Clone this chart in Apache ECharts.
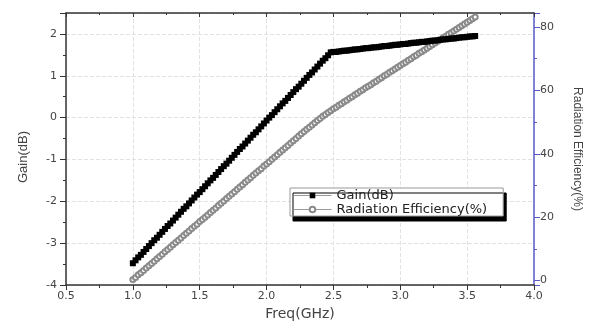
<!DOCTYPE html>
<html>
<head>
<meta charset="utf-8">
<style>
  html, body { margin: 0; padding: 0; background: #fff; }
  #chart { width: 591px; height: 329px; }
</style>
<script src="https://cdn.jsdelivr.net/npm/echarts@6/dist/echarts.min.js"></script>
</head>
<body>
<div id="chart"></div>
<script>
// frequency points (GHz)
const freq = [
  1.00, 1.02, 1.04, 1.06, 1.08, 1.10, 1.12, 1.14, 1.16, 1.18,
  1.20, 1.22, 1.24, 1.26, 1.28, 1.30, 1.32, 1.34, 1.36, 1.38,
  1.40, 1.42, 1.44, 1.46, 1.48, 1.50, 1.52, 1.54, 1.56, 1.58,
  1.60, 1.62, 1.64, 1.66, 1.68, 1.70, 1.72, 1.74, 1.76, 1.78,
  1.80, 1.82, 1.84, 1.86, 1.88, 1.90, 1.92, 1.94, 1.96, 1.98,
  2.00, 2.02, 2.04, 2.06, 2.08, 2.10, 2.12, 2.14, 2.16, 2.18,
  2.20, 2.22, 2.24, 2.26, 2.28, 2.30, 2.32, 2.34, 2.36, 2.38,
  2.40, 2.42, 2.44, 2.46, 2.48, 2.50, 2.52, 2.54, 2.56, 2.58,
  2.60, 2.62, 2.64, 2.66, 2.68, 2.70, 2.72, 2.74, 2.76, 2.78,
  2.80, 2.82, 2.84, 2.86, 2.88, 2.90, 2.92, 2.94, 2.96, 2.98,
  3.00, 3.02, 3.04, 3.06, 3.08, 3.10, 3.12, 3.14, 3.16, 3.18,
  3.20, 3.22, 3.24, 3.26, 3.28, 3.30, 3.32, 3.34, 3.36, 3.38,
  3.40, 3.42, 3.44, 3.46, 3.48, 3.50, 3.52, 3.54, 3.56
]

// Gain (dB), left axis
const gain = [
  -3.48, -3.41, -3.34, -3.28, -3.21, -3.14, -3.07, -3.00, -2.93, -2.87,
  -2.80, -2.73, -2.66, -2.59, -2.53, -2.46, -2.39, -2.32, -2.25, -2.18,
  -2.12, -2.05, -1.98, -1.91, -1.84, -1.78, -1.71, -1.64, -1.57, -1.50,
  -1.44, -1.37, -1.30, -1.23, -1.16, -1.10, -1.03, -0.96, -0.89, -0.82,
  -0.75, -0.69, -0.62, -0.55, -0.48, -0.41, -0.35, -0.28, -0.21, -0.14,
  -0.07, 0.00, 0.06, 0.13, 0.20, 0.27, 0.34, 0.40, 0.47, 0.54,
  0.61, 0.68, 0.74, 0.81, 0.88, 0.95, 1.02, 1.08, 1.15, 1.22,
  1.29, 1.36, 1.42, 1.49, 1.56, 1.57, 1.57, 1.58, 1.59, 1.60,
  1.60, 1.61, 1.62, 1.63, 1.63, 1.64, 1.65, 1.66, 1.66, 1.67,
  1.68, 1.68, 1.69, 1.70, 1.71, 1.71, 1.72, 1.73, 1.74, 1.74,
  1.75, 1.76, 1.76, 1.77, 1.78, 1.79, 1.79, 1.80, 1.81, 1.81,
  1.82, 1.83, 1.84, 1.84, 1.85, 1.86, 1.87, 1.87, 1.88, 1.89,
  1.89, 1.90, 1.91, 1.92, 1.92, 1.93, 1.94, 1.94, 1.95
]

// Radiation efficiency (%), right axis
const efficiency = [
  0.3, 1.0, 1.8, 2.5, 3.2, 4.0, 4.7, 5.4, 6.1, 6.9,
  7.6, 8.3, 9.1, 9.8, 10.5, 11.3, 12.0, 12.7, 13.4, 14.2,
  14.9, 15.6, 16.4, 17.1, 17.8, 18.6, 19.3, 20.0, 20.7, 21.5,
  22.2, 22.9, 23.7, 24.4, 25.1, 25.9, 26.6, 27.3, 28.0, 28.8,
  29.5, 30.2, 31.0, 31.7, 32.4, 33.2, 33.9, 34.6, 35.3, 36.1,
  36.8, 37.5, 38.3, 39.0, 39.7, 40.5, 41.2, 41.9, 42.6, 43.4,
  44.1, 44.8, 45.6, 46.3, 47.0, 47.7, 48.4, 49.1, 49.8, 50.5,
  51.1, 51.8, 52.4, 53.0, 53.6, 54.2, 54.7, 55.3, 55.8, 56.4,
  56.9, 57.5, 58.0, 58.6, 59.1, 59.7, 60.2, 60.8, 61.3, 61.8,
  62.4, 62.9, 63.5, 64.0, 64.6, 65.1, 65.7, 66.2, 66.7, 67.3,
  67.8, 68.4, 68.9, 69.5, 70.0, 70.6, 71.1, 71.7, 72.2, 72.7,
  73.3, 73.8, 74.4, 74.9, 75.5, 76.0, 76.6, 77.1, 77.7, 78.2,
  78.7, 79.3, 79.8, 80.4, 80.9, 81.5, 82.0, 82.6, 83.1
]

const seriesNames = ['Gain(dB)', 'Radiation Efficiency(%)']

const axisColor = '#333'
const labelColor = '#444'
const blueAxis = '#5b5bc8'
const hFont = 'DejaVu Sans'
const vFont = 'Liberation Sans'

const chart = echarts.init(document.getElementById('chart'))

chart.setOption({
  animation: false,
  backgroundColor: '#fff',
  grid: {
    left: 66,
    right: 57,
    top: 13,
    bottom: 44
  },
  legend: {
    orient: 'vertical',
    left: 290,
    top: 188,
    data: seriesNames,
    itemWidth: 38,
    itemHeight: 7,
    itemGap: 1,
    padding: [1, 16, 0, 3],
    backgroundColor: '#fff',
    borderColor: '#999',
    borderWidth: 1,
    borderRadius: 0,
    shadowColor: '#000',
    shadowBlur: 0,
    shadowOffsetX: 3,
    shadowOffsetY: 5,
    lineStyle: {
      color: '#999',
      width: 1
    },
    textStyle: {
      fontFamily: hFont,
      fontSize: 13,
      color: '#222'
    }
  },
  xAxis: [{
    type: 'value',
    min: 0.5,
    max: 4.0,
    interval: 0.5,
    name: 'Freq(GHz)',
    nameLocation: 'middle',
    nameGap: 21,
    nameTextStyle: {
      fontFamily: hFont,
      fontSize: 14,
      color: labelColor
    },
    axisLine: { onZero: false, lineStyle: { color: axisColor, width: 1.5 } },
    axisTick: { length: 5, lineStyle: { color: axisColor } },
    minorTick: { show: true, splitNumber: 2, length: 3, lineStyle: { color: axisColor } },
    axisLabel: {
      fontFamily: hFont,
      fontSize: 11,
      color: labelColor,
      margin: 6,
      formatter: v => v.toFixed(1)
    },
    splitLine: { show: true, lineStyle: { color: '#e2e2e2', type: 'dashed', width: 1 } }
  }, {
    // mirror axis along the top edge
    type: 'value',
    position: 'top',
    min: 0.5,
    max: 4.0,
    interval: 0.5,
    axisLine: { onZero: false, lineStyle: { color: axisColor, width: 1.5 } },
    axisTick: { inside: true, length: 4, lineStyle: { color: axisColor } },
    minorTick: { show: true, splitNumber: 2, length: 2, lineStyle: { color: axisColor } },
    axisLabel: { show: false },
    splitLine: { show: false }
  }],
  yAxis: [{
    type: 'value',
    min: -4,
    max: 2.5,
    interval: 1,
    name: 'Gain(dB)',
    nameLocation: 'middle',
    nameGap: 36,
    nameTextStyle: {
      fontFamily: vFont,
      fontSize: 13,
      color: labelColor,
      padding: [0, 16, 0, 0]
    },
    axisLine: { show: true, onZero: false, lineStyle: { color: axisColor, width: 1.5 } },
    axisTick: { show: true, length: 6, lineStyle: { color: axisColor } },
    minorTick: { show: true, splitNumber: 2, length: 3, lineStyle: { color: axisColor } },
    axisLabel: {
      fontFamily: hFont,
      fontSize: 11,
      color: labelColor,
      margin: 9,
      showMaxLabel: false
    },
    splitLine: { show: true, lineStyle: { color: '#e2e2e2', type: 'dashed', width: 1 } }
  }, {
    type: 'value',
    position: 'right',
    min: -1.4,
    max: 84.4,
    splitNumber: 4,
    name: 'Radiation Efficiency(%)',
    nameLocation: 'middle',
    nameRotate: -90,
    nameGap: 37,
    nameTextStyle: {
      fontFamily: vFont,
      fontSize: 12,
      color: labelColor
    },
    axisLine: { show: true, onZero: false, lineStyle: { color: blueAxis, width: 1.5 } },
    axisTick: { show: true, length: 6, lineStyle: { color: blueAxis } },
    minorTick: { show: true, splitNumber: 2, length: 3, lineStyle: { color: blueAxis } },
    axisLabel: {
      fontFamily: hFont,
      fontSize: 11,
      color: labelColor,
      margin: 6,
      showMinLabel: false,
      showMaxLabel: false
    },
    splitLine: { show: false }
  }],
  series: [{
    name: seriesNames[0],
    type: 'line',
    xAxisIndex: 0,
    yAxisIndex: 0,
    data: freq.map((f, i) => [f, gain[i]]),
    symbol: 'rect',
    symbolSize: 6,
    itemStyle: { color: '#000' },
    lineStyle: { width: 0, color: '#999' },
    z: 3
  }, {
    name: seriesNames[1],
    type: 'line',
    xAxisIndex: 0,
    yAxisIndex: 1,
    data: freq.map((f, i) => [f, efficiency[i]]),
    symbol: 'emptyCircle',
    symbolSize: 5,
    itemStyle: { color: '#8a8a8a', borderWidth: 1 },
    lineStyle: { width: 0, color: '#999' },
    z: 2
  }]
})
</script>
</body>
</html>
